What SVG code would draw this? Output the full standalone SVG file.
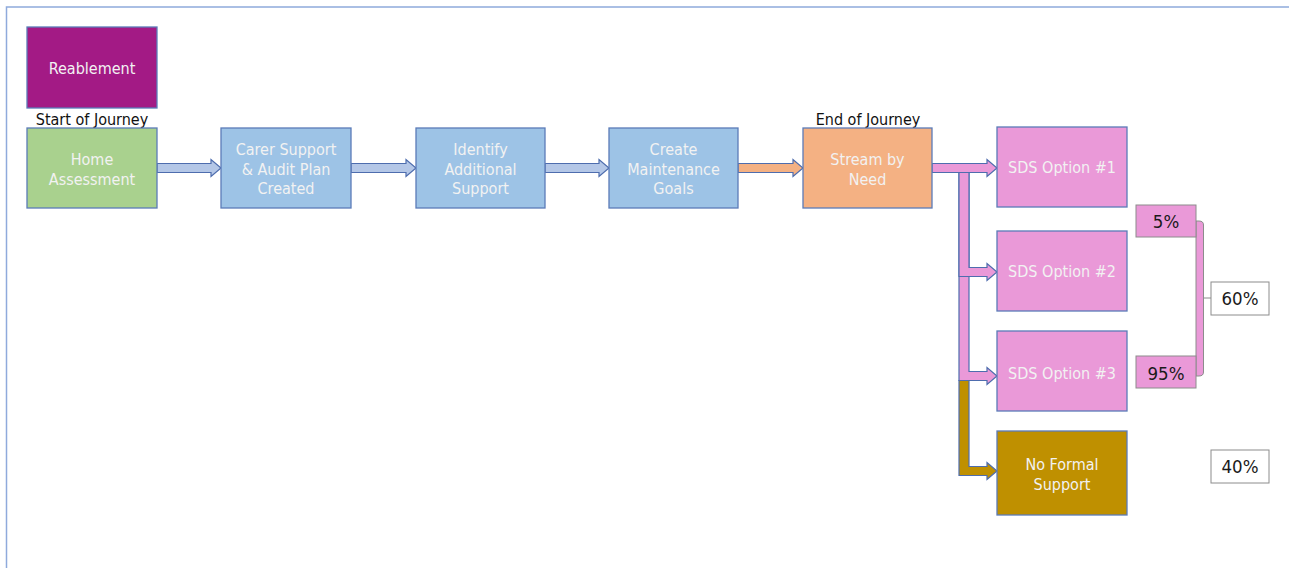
<svg xmlns="http://www.w3.org/2000/svg" width="1289" height="568" viewBox="0 0 1289 568">
<style>
.box{stroke:#5B7BB8;stroke-width:1.3}
text{font-family:"DejaVu Sans Condensed","DejaVu Sans",Verdana,sans-serif;font-stretch:condensed;text-anchor:middle}
.t{font-size:16px;fill:#F2F2F2}
.lbl{font-size:16px;fill:#111}
.pct{font-size:18.5px;fill:#1a1a1a}
.arr{stroke:#4E6DAE;stroke-width:1.2;stroke-linejoin:miter}
.blue{fill:#B4C7E7}
.pink{fill:#EA99D8}
.gold{fill:#BF9000}
.orange{fill:#F4B183}
</style>
<rect width="1289" height="568" fill="#fff"/>
<path d="M6.5,568 V7 H1289" fill="none" stroke="#8FAADC" stroke-width="1.5"/>

<g id="connectors">
  <polygon class="arr blue" points="157,163.5 211,163.5 211,159.5 221,168 211,176.5 211,172.5 157,172.5"/>
  <polygon class="arr blue" points="351,163.5 406,163.5 406,159.5 416,168 406,176.5 406,172.5 351,172.5"/>
  <polygon class="arr blue" points="545,163.5 599,163.5 599,159.5 609,168 599,176.5 599,172.5 545,172.5"/>
  <polygon class="arr orange" points="738,163.5 793,163.5 793,159.5 803,168 793,176.5 793,172.5 738,172.5"/>
  <polygon class="arr pink" points="959,172.5 969,172.5 969,371.5 987,371.5 987,367.5 997,376 987,384.5 987,380.5 959,380.5"/>
  <polygon class="arr pink" points="959,172.5 969,172.5 969,267.5 987,267.5 987,263.5 997,272 987,280.5 987,276.5 959,276.5"/>
  <polygon class="arr gold" points="959,380.5 969,380.5 969,466.5 987,466.5 987,462.5 997,471 987,479.5 987,475.5 959,475.5"/>
  <polygon class="arr pink" points="932,163.5 987,163.5 987,159.5 997,168 987,176.5 987,172.5 932,172.5"/>
  <path d="M1196,221 H1199 Q1203.5,221 1203.5,225 V372 Q1203.5,376 1199,376 H1196 Z" fill="#EA99D8" stroke="#8C8C8C" stroke-width="1"/>
  <line x1="1203.5" y1="298" x2="1211" y2="298" stroke="#8C8C8C" stroke-width="1"/>
</g>

<g id="reablement">
  <rect class="box" x="27" y="27" width="130" height="81" fill="#A31A85"/>
  <text class="t" x="92" y="74">Reablement</text>
</g>
<g id="start-label"><text class="lbl" x="92" y="125">Start of Journey</text></g>
<g id="end-label"><text class="lbl" x="868" y="125">End of Journey</text></g>

<g id="home-assessment">
  <rect class="box" x="27" y="128" width="130" height="80" fill="#A9D18E"/>
  <text class="t" x="92" y="165">Home</text>
  <text class="t" x="92" y="185">Assessment</text>
</g>
<g id="carer-support">
  <rect class="box" x="221" y="128" width="130" height="80" fill="#9DC3E6"/>
  <text class="t" x="286" y="155">Carer Support</text>
  <text class="t" x="286" y="174.5">&amp; Audit Plan</text>
  <text class="t" x="286" y="194">Created</text>
</g>
<g id="identify-support">
  <rect class="box" x="416" y="128" width="129" height="80" fill="#9DC3E6"/>
  <text class="t" x="480.5" y="155">Identify</text>
  <text class="t" x="480.5" y="174.5">Additional</text>
  <text class="t" x="480.5" y="194">Support</text>
</g>
<g id="maintenance-goals">
  <rect class="box" x="609" y="128" width="129" height="80" fill="#9DC3E6"/>
  <text class="t" x="673.5" y="155">Create</text>
  <text class="t" x="673.5" y="174.5">Maintenance</text>
  <text class="t" x="673.5" y="194">Goals</text>
</g>
<g id="stream-by-need">
  <rect class="box" x="803" y="128" width="129" height="80" fill="#F4B183"/>
  <text class="t" x="867.5" y="165">Stream by</text>
  <text class="t" x="867.5" y="185">Need</text>
</g>
<g id="sds1">
  <rect class="box" x="997" y="127" width="130" height="80" fill="#EA99D8"/>
  <text class="t" x="1062" y="173">SDS Option #1</text>
</g>
<g id="sds2">
  <rect class="box" x="997" y="231" width="130" height="80" fill="#EA99D8"/>
  <text class="t" x="1062" y="277">SDS Option #2</text>
</g>
<g id="sds3">
  <rect class="box" x="997" y="331" width="130" height="80" fill="#EA99D8"/>
  <text class="t" x="1062" y="379">SDS Option #3</text>
</g>
<g id="no-formal">
  <rect class="box" x="997" y="431" width="130" height="84" fill="#BF9000"/>
  <text class="t" x="1062" y="470">No Formal</text>
  <text class="t" x="1062" y="490">Support</text>
</g>
<g id="pct5">
  <rect x="1136" y="205" width="60" height="32" fill="#EA99D8" stroke="#8C8C8C" stroke-width="1"/>
  <text class="pct" x="1166" y="228">5%</text>
</g>
<g id="pct95">
  <rect x="1136" y="356" width="60" height="32" fill="#EA99D8" stroke="#8C8C8C" stroke-width="1"/>
  <text class="pct" x="1166" y="380">95%</text>
</g>
<g id="pct60">
  <rect x="1211" y="282" width="58" height="33" fill="#fff" stroke="#8C8C8C" stroke-width="1"/>
  <text class="pct" x="1240" y="305">60%</text>
</g>
<g id="pct40">
  <rect x="1211" y="450" width="58" height="33" fill="#fff" stroke="#8C8C8C" stroke-width="1"/>
  <text class="pct" x="1240" y="473">40%</text>
</g>
</svg>
